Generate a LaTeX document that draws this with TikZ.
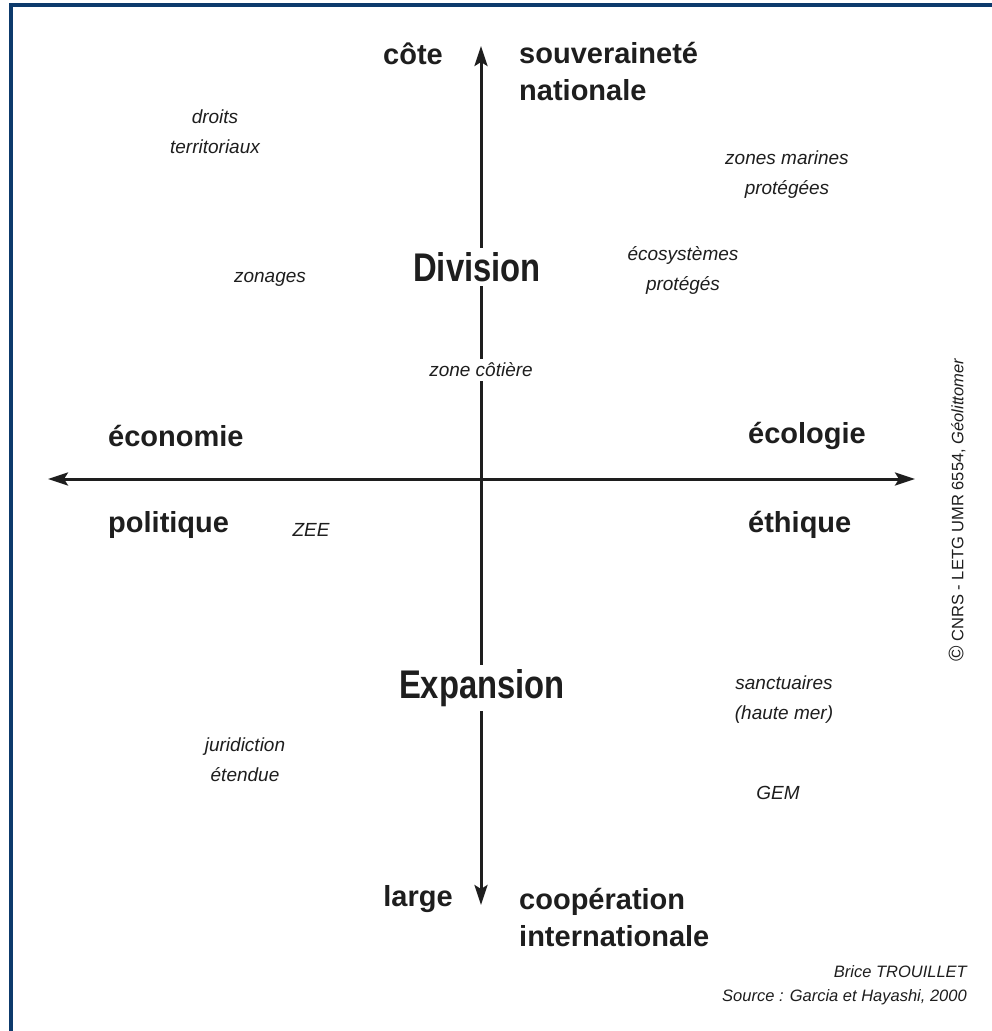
\documentclass[tikz,border=0pt]{standalone}
\usepackage{fontspec}
\setmainfont{Liberation Sans}
\usetikzlibrary{arrows.meta}
\definecolor{frame}{HTML}{0D3A6C}
\definecolor{ink}{HTML}{1E1E1E}
\tikzset{
  axis/.style={line width=3pt, draw=ink, -{Stealth[length=20pt,width=13pt,inset=4pt]}},
  big/.style={font=\fontsize{29}{37}\selectfont\bfseries, text=ink, inner sep=0pt},
  bigl/.style={big, anchor=west, align=left},
  title/.style={font=\fontsize{40}{40}\selectfont\bfseries, text=ink, fill=white, inner sep=4pt},
  term/.style={font=\fontsize{19}{30}\selectfont\itshape, text=ink, align=center, inner sep=1pt},
  credit/.style={font=\fontsize{16.5}{24}\selectfont\itshape, text=ink, anchor=east, inner sep=0pt}
}
\begin{document}
\begin{tikzpicture}[x=1pt,y=-1pt]
\useasboundingbox (0,0) rectangle (992,1031);
\fill[white] (0,0) rectangle (992,1031);
% frame (top and left only)
\draw[frame, line width=4pt] (11,1031) -- (11,5) -- (992,5);

% axis end points
\coordinate (top) at (481,46);
\coordinate (bottom) at (481,905);
\coordinate (left) at (48,479);
\coordinate (right) at (915,479);
\coordinate (origin) at (481,479);

\draw[axis] (origin) -- (top);
\draw[axis] (origin) -- (bottom);
\draw[axis] (origin) -- (left);
\draw[axis] (origin) -- (right);

% axis titles
\node[title] (division) at (477,267) {\scalebox{0.82}[1]{Division}};
\node[title] (expansion) at (482,688) {\scalebox{0.82}[1]{Expansion}};
\node[term, fill=white, inner sep=4pt] (cotiere) at (481,370) {zone côtière};

% bold pole labels
\node[big] (cote) at (413,54) {côte};
\node[bigl] (souv) at (519,72) {souveraineté\\nationale};
\node[big] (large) at (418,899) {large};
\node[bigl] (coop) at (519,917) {coopération\\internationale};
\node[bigl] (economie) at (108,436) {économie};
\node[bigl] (politique) at (108,525) {politique};
\node[bigl] (ecologie) at (748,436) {écologie};
\node[bigl] (ethique) at (748,525) {éthique};

% italic terms
\node[term] (droits) at (215,132) {droits\\territoriaux};
\node[term] (zonages) at (270,279) {zonages};
\node[term] (zonesmar) at (787,175) {zones marines\\protégées};
\node[term] (ecosys) at (683,270) {écosystèmes\\protégés};
\node[term] (zee) at (311,530) {ZEE};
\node[term] (sanct) at (784,700) {sanctuaires\\(haute mer)};
\node[term] (jurid) at (245,760) {juridiction\\étendue};
\node[term] (gem) at (778,793) {GEM};

% credits
\node[credit] (auteur) at (967,972) {Brice TROUILLET};
\node[credit] (source) at (967,997) {Source : Garcia et Hayashi, 2000};
\node[font=\fontsize{16.5}{18}\selectfont, text=ink, rotate=90, inner sep=0pt] (copyright) at (957,510) {{\fontsize{21}{18}\selectfont ©} CNRS - LETG UMR 6554, \textit{Géolittomer}};
\end{tikzpicture}
\end{document}
